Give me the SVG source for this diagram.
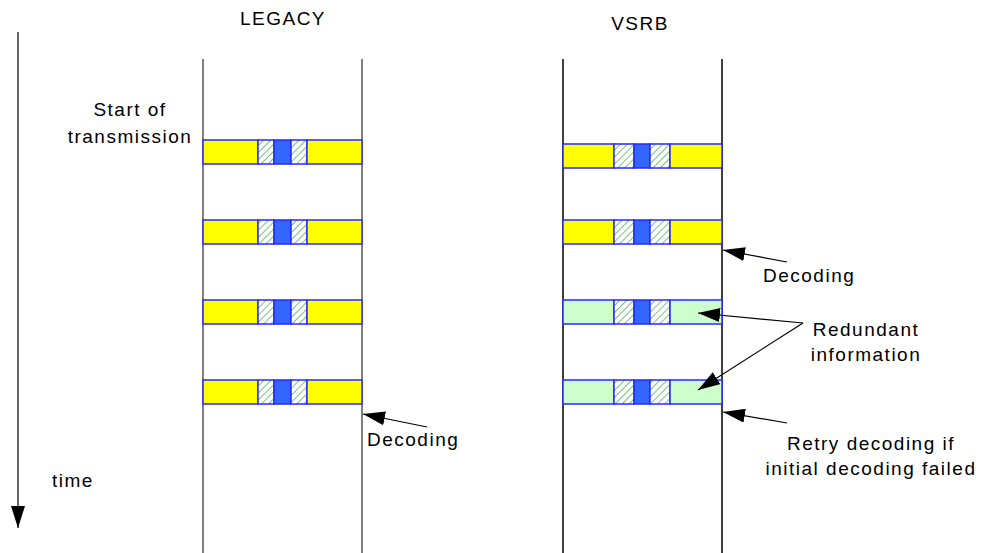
<svg xmlns="http://www.w3.org/2000/svg" width="981" height="553" viewBox="0 0 981 553">
<defs>
<pattern id="hatch" patternUnits="userSpaceOnUse" width="5" height="5" patternTransform="rotate(45)">
<rect width="5" height="5" fill="#fff"/>
<line x1="0" y1="0" x2="0" y2="5" stroke="#1f9a1f" stroke-width="1.2"/>
</pattern>
<marker id="ah" viewBox="0 0 22 14" refX="22" refY="7" markerWidth="22" markerHeight="14" markerUnits="userSpaceOnUse" orient="auto">
<path d="M22,7 L0,0 L0,14 Z" fill="#000"/>
</marker>
</defs>
<style>
text{font-family:"Liberation Sans",Arial,sans-serif;font-size:19px;fill:#000;letter-spacing:1.5px}
.y{fill:#ffff00;stroke:#2a2aff;stroke-width:1.5}
.g{fill:#ccffcc;stroke:#2a2aff;stroke-width:1.5}
.h{fill:url(#hatch);stroke:#2a2aff;stroke-width:1.5}
.b{fill:#3366ff;stroke:#2a2aff;stroke-width:1.5}
.lg{stroke:#555;stroke-width:1.5}
.lb{stroke:#000;stroke-width:1.5}
.c{stroke:#000;stroke-width:1.2;fill:none;marker-end:url(#ah)}
</style>
<rect width="981" height="553" fill="#fff"/>
<g id="legacy">
<text x="283" y="25" text-anchor="middle">LEGACY</text>
<line class="lg" x1="203" y1="59" x2="203" y2="553"/>
<line class="lg" x1="362" y1="59" x2="362" y2="553"/>
</g>
<g id="vsrb">
<text x="640" y="30" text-anchor="middle">VSRB</text>
<line class="lb" x1="563" y1="59" x2="563" y2="553"/>
<line class="lb" x1="722" y1="59" x2="722" y2="553"/>
</g>
<g id="time-axis">
<line x1="18" y1="32" x2="18" y2="528" stroke="#000" stroke-width="1.2" marker-end="url(#ah)"/>
<text x="52" y="487">time</text>
</g>
<g id="start-label">
<text x="130" y="116" text-anchor="middle">Start of</text>
<text x="130" y="143" text-anchor="middle">transmission</text>
</g>
<g id="legacy-bar-1"><rect class="y" x="203" y="140" width="55" height="24"/><rect class="h" x="258" y="140" width="16" height="24"/><rect class="b" x="274" y="140" width="17" height="24"/><rect class="h" x="291" y="140" width="16" height="24"/><rect class="y" x="307" y="140" width="55" height="24"/></g>
<g id="legacy-bar-2"><rect class="y" x="203" y="220" width="55" height="24"/><rect class="h" x="258" y="220" width="16" height="24"/><rect class="b" x="274" y="220" width="17" height="24"/><rect class="h" x="291" y="220" width="16" height="24"/><rect class="y" x="307" y="220" width="55" height="24"/></g>
<g id="legacy-bar-3"><rect class="y" x="203" y="300" width="55" height="24"/><rect class="h" x="258" y="300" width="16" height="24"/><rect class="b" x="274" y="300" width="17" height="24"/><rect class="h" x="291" y="300" width="16" height="24"/><rect class="y" x="307" y="300" width="55" height="24"/></g>
<g id="legacy-bar-4"><rect class="y" x="203" y="380" width="55" height="24"/><rect class="h" x="258" y="380" width="16" height="24"/><rect class="b" x="274" y="380" width="17" height="24"/><rect class="h" x="291" y="380" width="16" height="24"/><rect class="y" x="307" y="380" width="55" height="24"/></g>
<g id="vsrb-bar-1"><rect class="y" x="563" y="144" width="51" height="24"/><rect class="h" x="614" y="144" width="20" height="24"/><rect class="b" x="634" y="144" width="16" height="24"/><rect class="h" x="650" y="144" width="20" height="24"/><rect class="y" x="670" y="144" width="52" height="24"/></g>
<g id="vsrb-bar-2"><rect class="y" x="563" y="220" width="51" height="24"/><rect class="h" x="614" y="220" width="20" height="24"/><rect class="b" x="634" y="220" width="16" height="24"/><rect class="h" x="650" y="220" width="20" height="24"/><rect class="y" x="670" y="220" width="52" height="24"/></g>
<g id="vsrb-bar-3"><rect class="g" x="563" y="300" width="51" height="24"/><rect class="h" x="614" y="300" width="20" height="24"/><rect class="b" x="634" y="300" width="16" height="24"/><rect class="h" x="650" y="300" width="20" height="24"/><rect class="g" x="670" y="300" width="52" height="24"/></g>
<g id="vsrb-bar-4"><rect class="g" x="563" y="380" width="51" height="24"/><rect class="h" x="614" y="380" width="20" height="24"/><rect class="b" x="634" y="380" width="16" height="24"/><rect class="h" x="650" y="380" width="20" height="24"/><rect class="g" x="670" y="380" width="52" height="24"/></g>
<g id="labels">
<text x="367" y="446">Decoding</text>
<text x="763" y="282">Decoding</text>
<text x="866" y="336" text-anchor="middle">Redundant</text>
<text x="866" y="361" text-anchor="middle">information</text>
<text x="871" y="450" text-anchor="middle">Retry decoding if</text>
<text x="871" y="475" text-anchor="middle">initial decoding failed</text>
</g>
<g id="connectors">
<line class="c" x1="427" y1="427" x2="363" y2="414"/>
<line class="c" x1="787" y1="262" x2="723" y2="250"/>
<line class="c" x1="803" y1="323" x2="698" y2="313"/>
<line class="c" x1="803" y1="323" x2="698" y2="390"/>
<line class="c" x1="787" y1="423" x2="723" y2="412"/>
</g>
</svg>
